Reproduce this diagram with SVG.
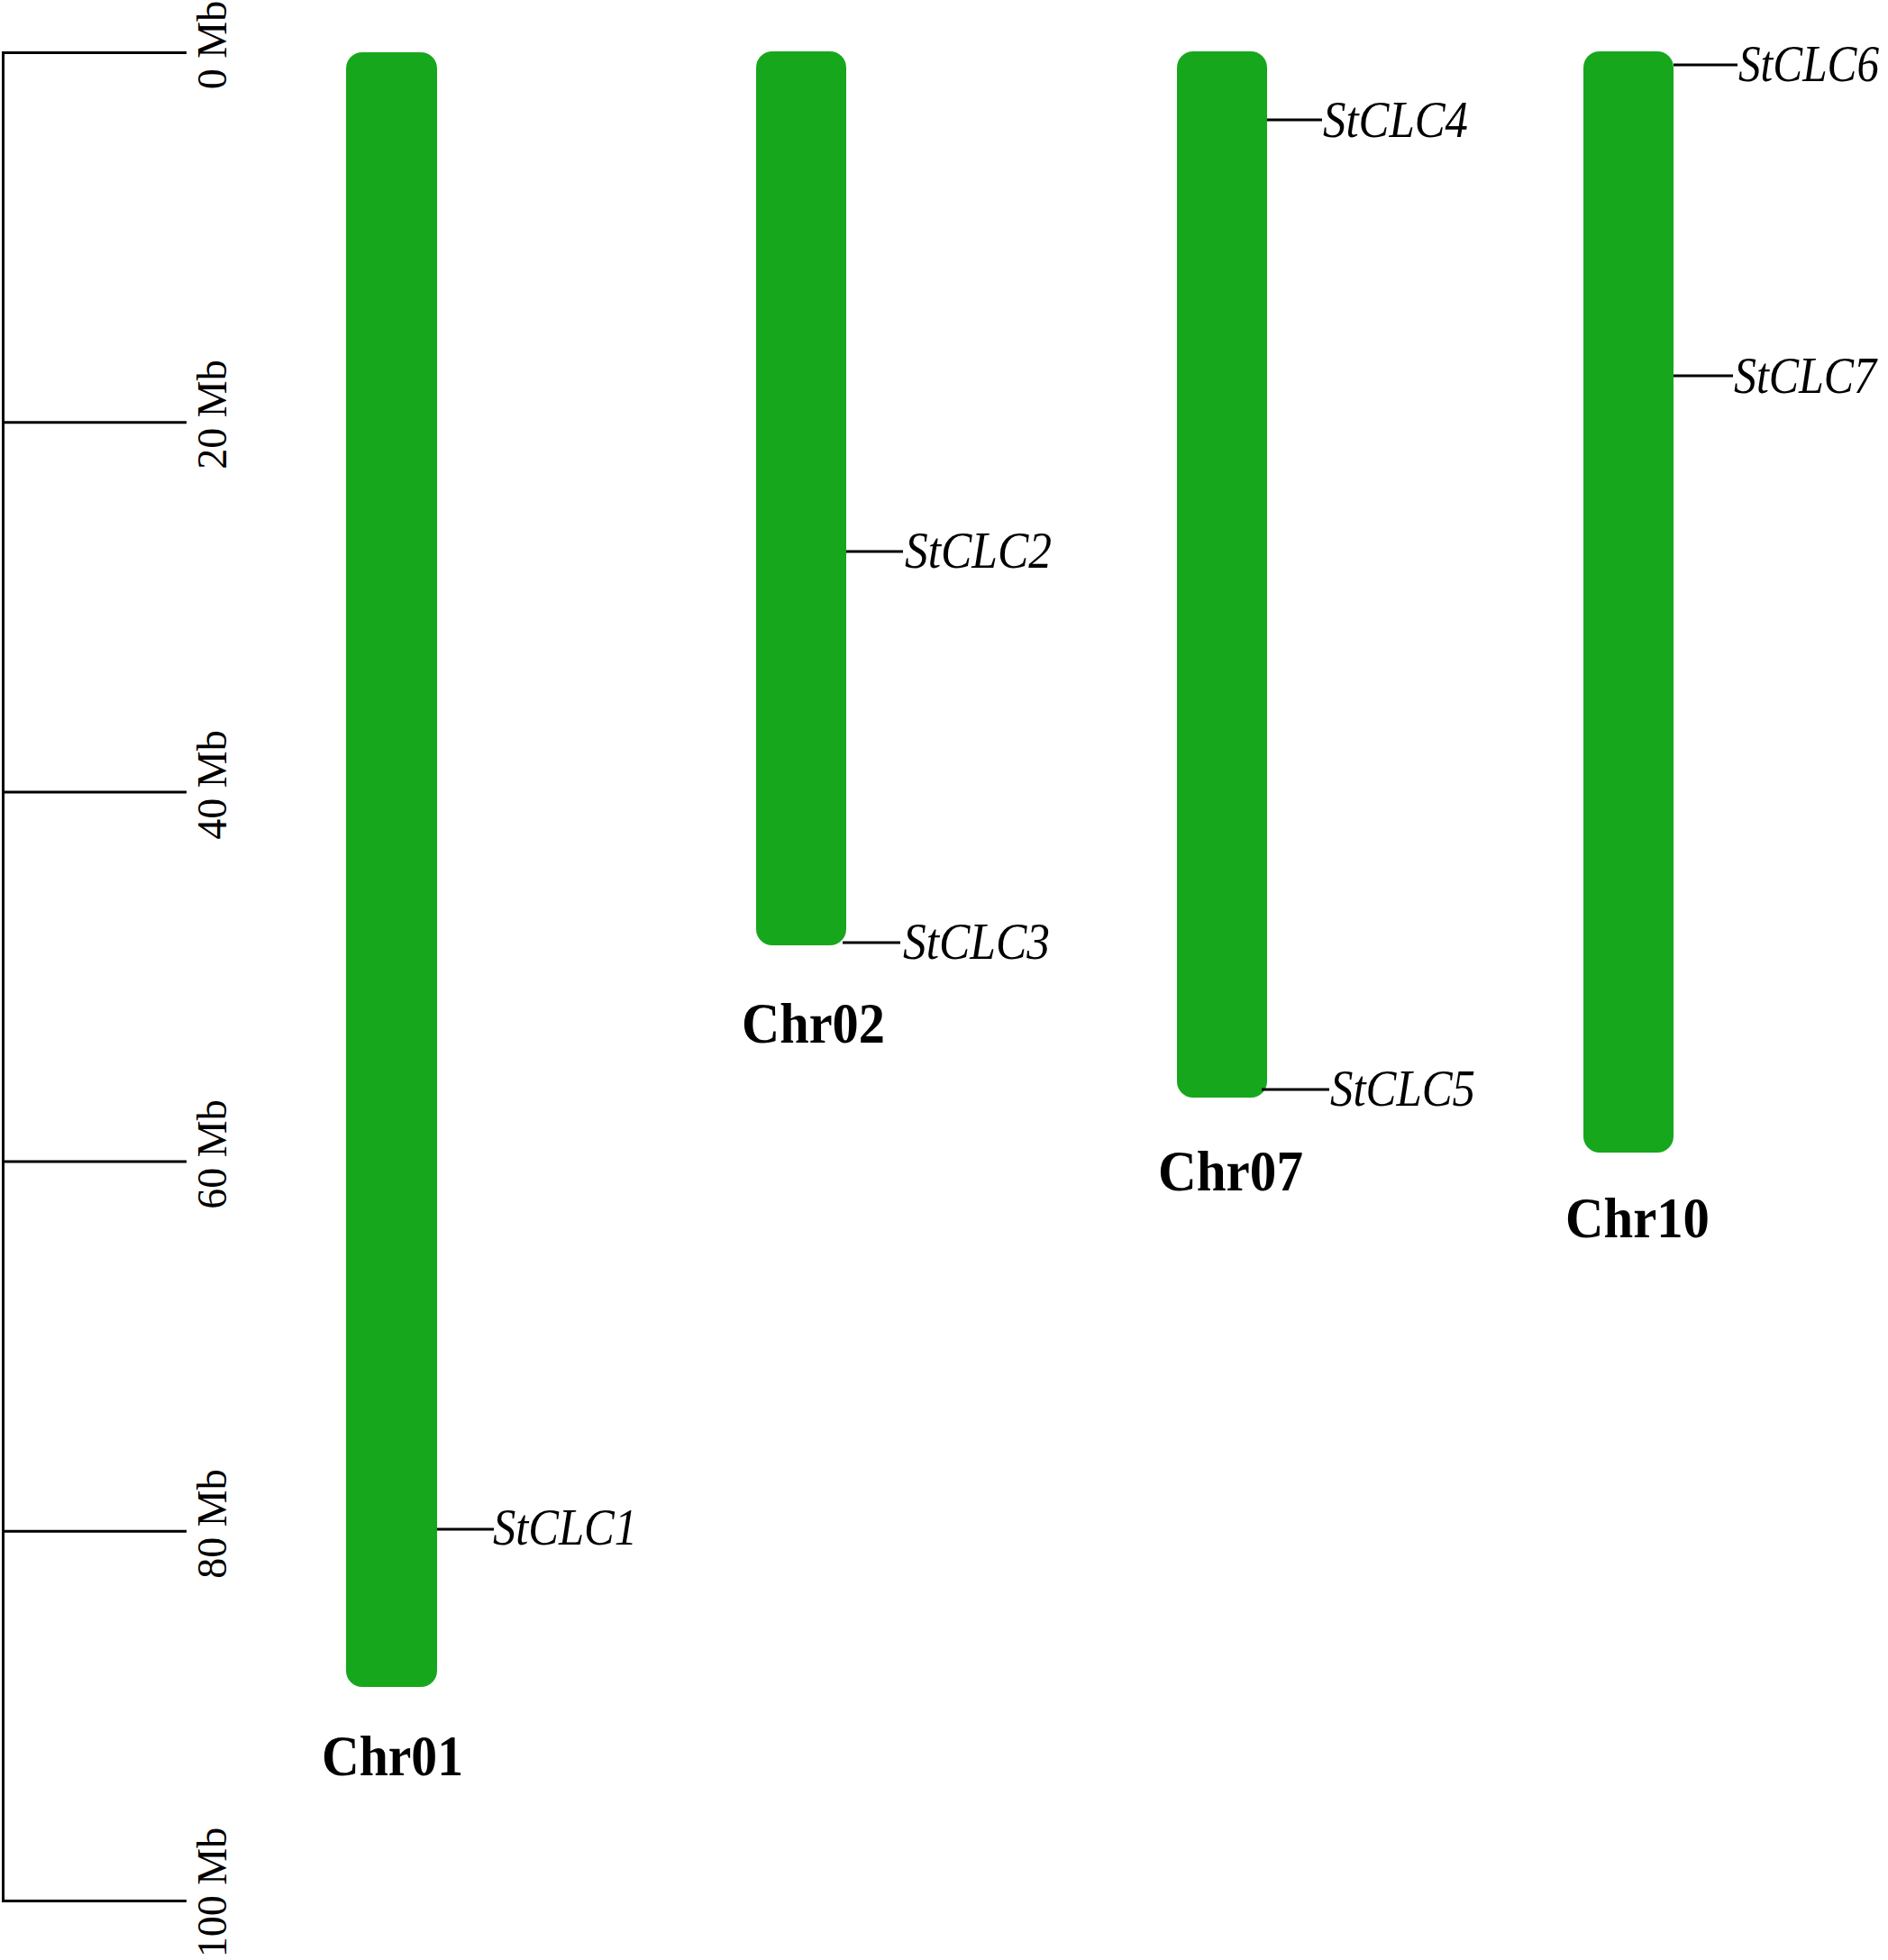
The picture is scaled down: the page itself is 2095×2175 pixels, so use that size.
<svg xmlns="http://www.w3.org/2000/svg" width="2095" height="2175" viewBox="0 0 2095 2175">
<style>
.chr{fill:#17A71D}
.ln{stroke:#000;stroke-width:3;fill:none}
.tick{font-family:"Liberation Serif",serif;font-size:46px;fill:#000;text-anchor:middle}
.gene{font-family:"Liberation Serif",serif;font-size:56px;font-style:italic;fill:#000}
.lab{font-family:"Liberation Serif",serif;font-size:63px;font-weight:bold;fill:#000}
</style>
<rect width="2095" height="2175" fill="#fff"/>
<g id="scale">
<path class="ln" d="M3.5,58.5V2109.5M2,58.5H207M2,468.7H207M2,878.9H207M2,1289.1H207M2,1699.3H207M2,2109.5H207"/>
<text class="tick" transform="translate(251,50) rotate(-90)">0 Mb</text>
<text class="tick" transform="translate(251,460) rotate(-90)">20 Mb</text>
<text class="tick" transform="translate(251,871) rotate(-90)">40 Mb</text>
<text class="tick" transform="translate(251,1281) rotate(-90)">60 Mb</text>
<text class="tick" transform="translate(251,1691) rotate(-90)">80 Mb</text>
<text class="tick" transform="translate(251,2100) rotate(-90)">100 Mb</text>
</g>
<g id="chr01">
<rect class="chr" x="384" y="58" width="101" height="1814" rx="18" ry="18"/>
<text class="lab" x="357" y="1970" textLength="157" lengthAdjust="spacingAndGlyphs">Chr01</text>
</g>
<g id="chr02">
<rect class="chr" x="839" y="57" width="100" height="992" rx="18" ry="18"/>
<text class="lab" x="823" y="1157" textLength="159" lengthAdjust="spacingAndGlyphs">Chr02</text>
</g>
<g id="chr07">
<rect class="chr" x="1306" y="57" width="100" height="1161" rx="18" ry="18"/>
<text class="lab" x="1285" y="1321" textLength="161" lengthAdjust="spacingAndGlyphs">Chr07</text>
</g>
<g id="chr10">
<rect class="chr" x="1757" y="57" width="100" height="1222" rx="18" ry="18"/>
<text class="lab" x="1737" y="1373" textLength="160" lengthAdjust="spacingAndGlyphs">Chr10</text>
</g>
<g id="connectors">
<path class="ln" d="M485,1697H548M939,612H1002M935,1046H999M1406,133H1467M1400,1209H1475M1857,72H1928M1857,417H1923"/>
</g>
<g id="gene-StCLC1"><text class="gene" x="547" y="1714" textLength="160" lengthAdjust="spacingAndGlyphs">StCLC1</text></g>
<g id="gene-StCLC2"><text class="gene" x="1004" y="630" textLength="163" lengthAdjust="spacingAndGlyphs">StCLC2</text></g>
<g id="gene-StCLC3"><text class="gene" x="1002" y="1064" textLength="163" lengthAdjust="spacingAndGlyphs">StCLC3</text></g>
<g id="gene-StCLC4"><text class="gene" x="1468" y="152" textLength="161" lengthAdjust="spacingAndGlyphs">StCLC4</text></g>
<g id="gene-StCLC5"><text class="gene" x="1476" y="1227" textLength="161" lengthAdjust="spacingAndGlyphs">StCLC5</text></g>
<g id="gene-StCLC6"><text class="gene" x="1929" y="90" textLength="156" lengthAdjust="spacingAndGlyphs">StCLC6</text></g>
<g id="gene-StCLC7"><text class="gene" x="1924" y="436" textLength="158" lengthAdjust="spacingAndGlyphs">StCLC7</text></g>
</svg>
